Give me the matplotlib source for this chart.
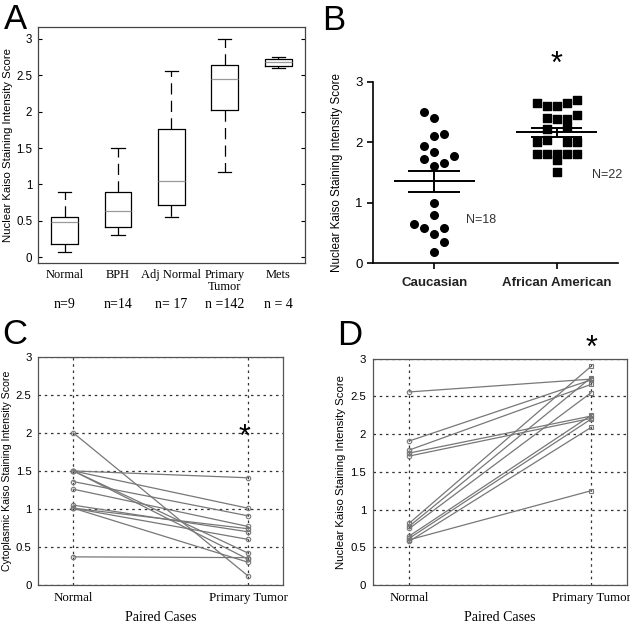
import numpy as np
import matplotlib
matplotlib.use("Agg")
import matplotlib.pyplot as plt
import matplotlib.transforms as mtransforms

# ---- panel A: box plots (nuclear Kaiso by tissue) ----
a_groups = ["Normal", "BPH", "Adj Normal", "Primary\nTumor", "Mets"]
a_counts = ["n=9", "n=14", "n= 17", "n =142", "n = 4"]
a_whislo = [0.07, 0.30, 0.55, 1.17, 2.60]
a_q1 = [0.18, 0.41, 0.72, 2.03, 2.63]
a_med = [0.48, 0.63, 1.05, 2.45, 2.68]
a_q3 = [0.55, 0.90, 1.76, 2.64, 2.72]
a_whishi = [0.90, 1.50, 2.56, 3.00, 2.75]

# ---- panel B: scatter with mean +/- SEM ----
b_groups = ["Caucasian", "African American"]
cau_vals = [2.50, 2.40, 2.10, 2.14, 1.94, 1.84, 1.72, 1.77, 1.61, 1.65,
            1.00, 0.79, 0.64, 0.58, 0.58, 0.48, 0.35, 0.19]
cau_col = [-1, 0, 0, 1, -1, 0, -1, 2, 0, 1,
           0, 0, -2, -1, 1, 0, 1, 0]
aa_vals = [2.64, 2.59, 2.59, 2.64, 2.70,
           2.40, 2.38, 2.38, 2.45,
           2.21, 2.25,
           2.00, 2.04, 2.00, 2.00,
           1.80, 1.80, 1.80, 1.80, 1.80,
           1.70, 1.50]
aa_col = [-2, -1, 0, 1, 2,
          -1, 0, 1, 2,
          -1, 1,
          -2, -1, 1, 2,
          -2, -1, 0, 1, 2,
          0, 0]

# ---- panel C: cytoplasmic, paired cases ----
paired_labels = ["Normal", "Primary Tumor"]
c_normal = [2.00, 1.50, 1.50, 1.50, 1.50, 1.36, 1.26, 1.05, 1.01, 1.01, 1.01, 0.37]
c_tumor = [0.12, 1.41, 1.01, 0.42, 0.34, 0.91, 0.77, 0.70, 0.74, 0.60, 0.30, 0.36]

# ---- panel D: nuclear, paired cases ----
d_normal = [2.56, 1.91, 1.79, 1.75, 1.71, 0.82, 0.78, 0.75, 0.65, 0.62, 0.58, 0.60]
d_tumor = [2.73, 2.72, 2.66, 2.24, 2.21, 2.90, 2.75, 2.55, 2.25, 2.20, 2.09, 1.25]

SANS = "Liberation Sans"
SERIF = "Liberation Serif"
plt.rcParams["font.family"] = SANS

fig = plt.figure(figsize=(6.3, 6.25), dpi=100)

# ---------------- A ----------------
ax = fig.add_axes([0.060, 0.579, 0.424, 0.378])
stats = []
for lo, q1, md, q3, hi in zip(a_whislo, a_q1, a_med, a_q3, a_whishi):
    stats.append(dict(whislo=lo, q1=q1, med=md, q3=q3, whishi=hi, fliers=[]))
ax.bxp(stats, positions=range(1, len(stats) + 1), widths=0.5, capwidths=0.25,
       showfliers=False,
       boxprops=dict(color="black", lw=0.9),
       whiskerprops=dict(color="black", lw=0.9, linestyle=(0, (9, 5))),
       capprops=dict(color="black", lw=0.9),
       medianprops=dict(color="#9a9a9a", lw=0.9))
ax.set_xlim(0.5, 5.5)
ax.set_ylim(-0.08, 3.165)
ax.set_yticks([0, 0.5, 1, 1.5, 2, 2.5, 3])
ax.set_yticklabels(["0", "0.5", "1", "1.5", "2", "2.5", "3"], fontsize=8.3)
ax.tick_params(axis="y", direction="in", right=True, length=3, pad=4)
ax.tick_params(axis="x", length=0, pad=4)
ax.set_xticks(range(1, 6))
ax.set_xticklabels(a_groups, fontsize=9, family=SERIF, linespacing=1.0)
ax.set_ylabel("Nuclear Kaiso Staining Intensity Score", fontsize=8.2, labelpad=2)
for s in ax.spines.values():
    s.set_color("#444444")
    s.set_linewidth(0.9)
trans = mtransforms.blended_transform_factory(ax.transData, ax.transAxes)
for i, lab in enumerate(a_counts):
    ax.text(i + 1, -0.175, lab, transform=trans, ha="center", va="center",
            fontsize=10, family=SERIF)
fig.text(0.006, 0.995, "A", fontsize=25, va="top", ha="left")

# ---------------- B ----------------
ax = fig.add_axes([0.592, 0.579, 0.389, 0.2906])
step = 0.082
cx = [0 + c * step for c in cau_col]
ax.scatter(cx, cau_vals, s=30, marker="o", color="black", zorder=3)
ax2x = [1 + c * step for c in aa_col]
ax.scatter(ax2x, aa_vals, s=28, marker="s", color="black", zorder=3)
for pos, vals in [(0, cau_vals), (1, aa_vals)]:
    v = np.array(vals)
    m = v.mean()
    sem = v.std(ddof=1) / np.sqrt(len(v))
    ax.hlines(m, pos - 0.33, pos + 0.33, color="black", lw=1.4, zorder=4)
    ax.hlines([m - sem, m + sem], pos - 0.21, pos + 0.21, color="black", lw=1.4, zorder=4)
    ax.vlines(pos, m - sem, m + sem, color="black", lw=1.4, zorder=4)
ax.set_xlim(-0.5, 1.5)
ax.set_ylim(0, 3)
ax.set_yticks([0, 1, 2, 3])
ax.set_xticks([0, 1])
ax.set_xticklabels(b_groups, fontsize=9.5, fontweight="bold", color="#222222")
ax.tick_params(axis="y", labelsize=9.5, length=4, width=1.2)
ax.tick_params(axis="x", length=4, width=1.2, pad=6)
ax.spines["top"].set_visible(False)
ax.spines["right"].set_visible(False)
ax.spines["left"].set_linewidth(1.2)
ax.spines["bottom"].set_linewidth(1.2)
ax.set_ylabel("Nuclear Kaiso Staining Intensity Score", fontsize=8.4, labelpad=9)
ax.text(0.26, 0.72, "N=18", fontsize=9, color="#333333", va="center")
ax.text(1.29, 1.46, "N=22", fontsize=9, color="#333333", va="center")
ax.text(1.0, 3.27, "*", fontsize=22, ha="center", va="center", clip_on=False)
fig.text(0.512, 0.993, "B", fontsize=25, va="top", ha="left")


def paired(ax, normal, tumor, ylabel, tumor_marker, ylabel_size):
    for n, t in zip(normal, tumor):
        ax.plot([1, 2], [n, t], color="#777777", lw=0.9, zorder=3)
        ax.plot([1], [n], marker="o", ms=3.2, mfc="none", mec="#777777", mew=0.8, zorder=3)
        ax.plot([2], [t], marker=tumor_marker, ms=3.2, mfc="none", mec="#777777", mew=0.8, zorder=3)
    ax.set_xlim(0.8, 2.2)
    ax.set_ylim(0, 3)
    ax.set_xticks([1, 2])
    ax.set_xticklabels(paired_labels, fontsize=9.3, family=SERIF)
    ax.set_yticks([0, 0.5, 1, 1.5, 2, 2.5, 3])
    ax.set_yticklabels(["0", "0.5", "1", "1.5", "2", "2.5", "3"], fontsize=8.2)
    ax.tick_params(direction="in", length=0, pad=5)
    ax.grid(True, color="#333333", lw=0.9, linestyle=(0, (2, 3)))
    ax.set_axisbelow(True)
    ax.set_xlabel("Paired Cases", fontsize=10, family=SERIF, labelpad=5)
    ax.set_ylabel(ylabel, fontsize=ylabel_size, labelpad=3)
    for s in ax.spines.values():
        s.set_color("#555555")
        s.set_linewidth(0.9)


# ---------------- C ----------------
ax = fig.add_axes([0.061, 0.064, 0.388, 0.365])
paired(ax, c_normal, c_tumor, "Cytoplasmic Kaiso Staining Intensity Score", "o", 7.6)
ax.text(1.98, 1.93, "*", fontsize=22, ha="center", va="center")
fig.text(0.003, 0.492, "C", fontsize=25, va="top", ha="left")

# ---------------- D ----------------
ax = fig.add_axes([0.592, 0.064, 0.404, 0.362])
paired(ax, d_normal, d_tumor, "Nuclear Kaiso Staining Intensity Score", "s", 8.2)
ax.text(2.0, 3.13, "*", fontsize=22, ha="center", va="center", clip_on=False)
fig.text(0.535, 0.490, "D", fontsize=25, va="top", ha="left")

fig.savefig("out.png", dpi=100)
